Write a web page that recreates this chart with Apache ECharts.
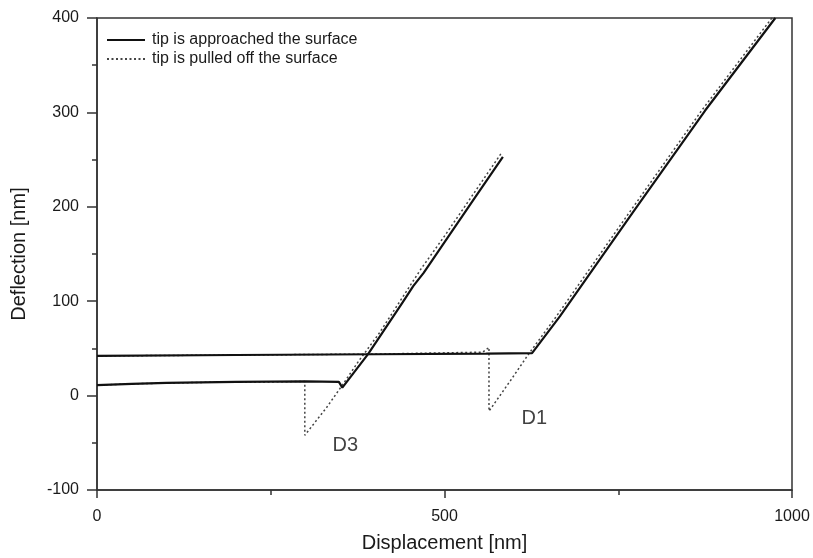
<!DOCTYPE html>
<html>
<head>
<meta charset="utf-8">
<script src="https://cdn.jsdelivr.net/npm/echarts@6/dist/echarts.min.js"></script>
<style>
  html, body { margin: 0; padding: 0; background: #fff; }
  #chart { width: 813px; height: 558px; }
</style>
</head>
<body>
<div id="chart"></div>
<script>
// Force curves: [displacement nm, deflection nm]
const approachD3 = [[0, 11], [50, 12.5], [100, 13.5], [200, 14.5], [300, 15], [348, 14.5], [353, 8.5],
  [390, 44], [410, 66], [440, 99], [455, 116], [470, 130], [505, 168], [545, 211], [584, 253]];
const approachD1 = [[0, 42], [200, 43], [400, 43.8], [560, 44.5], [626, 45], [666, 84],
  [770, 193], [875, 302], [976, 400]];
const retractD3 = [[581, 256], [541, 213], [501, 170], [466, 134], [451, 117], [436, 100], [406, 66],
  [376, 36], [352, 10], [330, -13], [299, -42], [299, 15], [250, 14.5], [150, 14], [50, 12.5], [0, 11]];
const retractD1 = [[971, 400], [870, 302], [765, 193], [661, 84], [622, 45], [595, 16], [564, -16.5],
  [564, 51], [555, 46], [400, 44], [200, 43], [0, 42]];

const seriesNames = ['tip is approached the surface', 'tip is pulled off the surface'];
const annotations = [['D3', 358, -53], ['D1', 630, -25]];

const xTicks = { min: 0, max: 1000, step: 500 };
const yTicks = { min: -100, max: 400, step: 100 };

const FONT = '"Liberation Sans", Arial, sans-serif';
const INK = '#1a1a1a';

const solidStyle = { color: '#111', width: 2.2, type: 'solid' };
const dottedStyle = { color: '#444', width: 1.5, type: [2, 2.5] };

function curve(name, data, style, z) {
  return {
    type: 'line', name: name, data: data, showSymbol: false, symbol: 'none',
    lineStyle: style, itemStyle: { color: style.color }, z: z, silent: true, animation: false
  };
}

const chart = echarts.init(document.getElementById('chart'), null, { renderer: 'canvas' });
chart.setOption({
  backgroundColor: '#fff',
  animation: false,
  grid: { left: 97, right: 21, top: 18, bottom: 67, show: true, borderColor: '#333', borderWidth: 1.5, backgroundColor: 'transparent' },
  legend: {
    show: true, orient: 'vertical', left: 101, top: 27, itemWidth: 38, itemHeight: 14, itemGap: 3,
    itemStyle: { opacity: 0 },
    textStyle: { fontFamily: FONT, fontSize: 16, color: INK, padding: [0, 0, 0, 2] },
    data: seriesNames
  },
  xAxis: {
    type: 'value', min: xTicks.min, max: xTicks.max, interval: xTicks.step,
    name: 'Displacement [nm]', nameLocation: 'middle', nameGap: 43,
    nameTextStyle: { fontFamily: FONT, fontSize: 20, color: INK },
    axisLine: { show: true, onZero: false, lineStyle: { color: '#333', width: 1.5 } },
    axisTick: { show: true, inside: false, length: 8, lineStyle: { color: '#333', width: 1.5 } },
    minorTick: { show: true, splitNumber: 2, length: 5, lineStyle: { color: '#333', width: 1.5 } },
    axisLabel: { fontFamily: FONT, fontSize: 16, color: INK, margin: 19, formatter: v => String(v) },
    splitLine: { show: false }
  },
  yAxis: {
    type: 'value', min: yTicks.min, max: yTicks.max, interval: yTicks.step,
    name: 'Deflection [nm]', nameLocation: 'middle', nameGap: 68,
    nameTextStyle: { fontFamily: FONT, fontSize: 20, color: INK },
    axisLine: { show: true, onZero: false, lineStyle: { color: '#333', width: 1.5 } },
    axisTick: { show: true, inside: false, length: 10, lineStyle: { color: '#333', width: 1.5 } },
    minorTick: { show: true, splitNumber: 2, length: 5, lineStyle: { color: '#333', width: 1.5 } },
    axisLabel: { fontFamily: FONT, fontSize: 16, color: INK, margin: 18, formatter: v => String(v) },
    splitLine: { show: false }
  },
  series: [
    curve(seriesNames[1], retractD3, dottedStyle, 2),
    curve(seriesNames[1], retractD1, dottedStyle, 2),
    curve(seriesNames[0], approachD3, solidStyle, 3),
    curve(seriesNames[0], approachD1, solidStyle, 3),
    {
      type: 'scatter', name: 'labels', symbolSize: 1, silent: true, z: 4,
      itemStyle: { color: 'rgba(0,0,0,0)' },
      data: annotations.map(a => ({ name: a[0], value: [a[1], a[2]] })),
      label: { show: true, position: [0, 0], align: 'center', verticalAlign: 'middle', formatter: p => p.name,
        fontFamily: FONT, fontSize: 20, color: '#111' }
    }
  ]
});
</script>
</body>
</html>
